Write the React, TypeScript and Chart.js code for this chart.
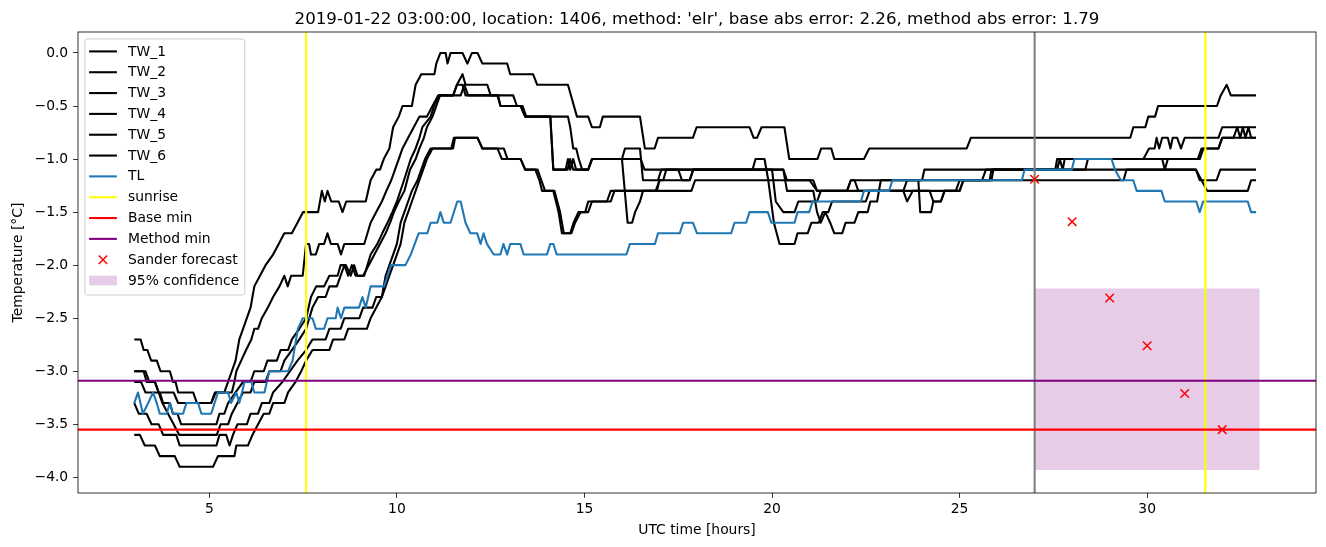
import React, { useEffect, useRef } from "react";
import { Chart, registerables } from "chart.js";

Chart.register(...registerables);

const TITLE =
  "2019-01-22 03:00:00, location: 1406, method: 'elr', base abs error: 2.26, method abs error: 1.79";
const X_LABEL = "UTC time [hours]";
const Y_LABEL = "Temperature [°C]";

const xTicks = [5, 10, 15, 20, 25, 30];
const yTicks = [-4.0, -3.5, -3.0, -2.5, -2.0, -1.5, -1.0, -0.5, 0.0];
const xRange = [1.5, 34.5];
const yRange = [-4.1475, 0.1975];

type P = [number, number];

const tw1: P[] = [
  [3.0, -2.7], [3.17, -2.7], [3.25, -2.8], [3.35, -2.8], [3.45, -2.9], [3.6, -2.9], [3.7, -3.0], [3.95, -3.0],
  [4.03, -3.1], [4.1, -3.1], [4.17, -3.2], [4.57, -3.2], [4.67, -3.3], [5.05, -3.3], [5.17, -3.2], [5.4, -3.2],
  [5.5, -3.1], [5.6, -3.0], [5.7, -2.9], [5.8, -2.7], [5.9, -2.6], [6.0, -2.5], [6.1, -2.4], [6.2, -2.2],
  [6.35, -2.1], [6.5, -2.0], [6.7, -1.9], [6.85, -1.8], [7.0, -1.7], [7.2, -1.7], [7.35, -1.6], [7.5, -1.5],
  [7.9, -1.5], [8.0, -1.3], [8.08, -1.4], [8.15, -1.3], [8.25, -1.4], [8.45, -1.4], [8.55, -1.5], [8.65, -1.4],
  [9.17, -1.4], [9.3, -1.2], [9.45, -1.1], [9.55, -1.1], [9.65, -1.0], [9.8, -0.9], [9.9, -0.7], [10.05, -0.6],
  [10.15, -0.5], [10.4, -0.5], [10.5, -0.3], [10.65, -0.2], [11.0, -0.2], [11.05, -0.1], [11.16, 0.0], [11.3, 0.0],
  [11.35, -0.1], [11.43, 0.0], [11.75, 0.0], [11.88, -0.1], [12.0, 0.0], [12.15, 0.0], [12.28, -0.1], [12.94, -0.1],
  [13.02, -0.2], [13.63, -0.2], [13.74, -0.3], [14.56, -0.3], [14.8, -0.6], [15.1, -0.6], [15.2, -0.7], [15.41, -0.7],
  [15.49, -0.6], [16.48, -0.6], [16.61, -0.9], [16.87, -0.9], [16.96, -0.8], [17.89, -0.8], [17.99, -0.7], [19.4, -0.7],
  [19.51, -0.8], [19.6, -0.8], [19.72, -0.7], [20.33, -0.7], [20.46, -1.0], [21.21, -1.0], [21.31, -0.9], [21.58, -0.9],
  [21.66, -1.0], [22.45, -1.0], [22.59, -0.9], [25.19, -0.9], [25.3, -0.8], [29.55, -0.8], [29.63, -0.7], [29.95, -0.7],
  [30.03, -0.6], [30.21, -0.6], [30.29, -0.5], [31.86, -0.5], [31.96, -0.4], [32.12, -0.3], [32.23, -0.4], [32.9, -0.4],
];

const tw2: P[] = [
  [3.0, -3.0], [3.25, -3.0], [3.33, -3.1], [3.55, -3.1], [3.65, -3.2], [4.05, -3.2], [4.17, -3.3], [5.05, -3.3],
  [5.15, -3.2], [5.6, -3.2], [5.67, -3.1], [5.72, -3.0], [5.85, -2.9], [5.98, -2.8], [6.12, -2.7], [6.2, -2.6],
  [6.3, -2.6], [6.4, -2.5], [6.56, -2.4], [6.7, -2.3], [6.87, -2.2], [7.0, -2.1], [7.09, -2.2], [7.18, -2.1],
  [7.49, -2.1], [7.58, -1.8], [7.66, -1.8], [7.71, -1.9], [7.84, -1.9], [7.93, -1.8], [8.06, -1.8], [8.15, -1.7],
  [8.24, -1.8], [8.42, -1.8], [8.51, -1.9], [8.6, -1.8], [9.13, -1.8], [9.3, -1.6], [9.45, -1.5], [9.6, -1.4],
  [9.72, -1.3], [9.85, -1.2], [9.95, -1.1], [10.05, -1.0], [10.15, -0.9], [10.3, -0.8], [10.45, -0.7], [10.6, -0.6],
  [10.8, -0.6], [10.95, -0.5], [11.1, -0.4], [11.5, -0.4], [11.6, -0.3], [11.75, -0.2], [11.83, -0.3], [12.41, -0.3],
  [12.5, -0.4], [12.7, -0.4], [12.76, -0.5], [13.3, -0.5], [13.42, -0.6], [14.09, -0.6], [14.17, -1.1], [14.5, -1.1],
  [14.56, -1.0], [14.62, -1.1], [14.7, -1.0], [14.78, -1.1], [15.1, -1.1], [15.2, -1.0], [16.0, -1.0], [16.08, -0.9],
  [16.48, -0.9], [16.56, -1.2], [16.96, -1.2], [17.05, -1.1], [19.48, -1.1], [19.56, -1.0], [19.8, -1.0], [19.9, -1.2],
  [20.05, -1.6], [20.2, -1.8], [20.6, -1.8], [20.68, -1.7], [20.95, -1.7], [21.05, -1.6], [21.25, -1.6], [21.35, -1.5],
  [21.5, -1.5], [21.6, -1.4], [22.5, -1.4], [22.6, -1.3], [23.5, -1.3], [23.6, -1.2], [24.0, -1.2], [24.06, -1.1],
  [31.3, -1.1], [31.4, -1.2], [31.85, -1.2], [31.95, -1.1], [32.9, -1.1],
];

const tw3: P[] = [
  [3.0, -3.1], [3.18, -3.1], [3.3, -3.2], [3.68, -3.2], [3.77, -3.3], [3.95, -3.3], [4.03, -3.4], [4.15, -3.4],
  [4.25, -3.5], [5.19, -3.5], [5.27, -3.4], [5.4, -3.4], [5.5, -3.3], [5.7, -3.2], [5.9, -3.1], [6.1, -3.1],
  [6.2, -3.0], [6.45, -3.0], [6.55, -2.9], [6.8, -2.9], [6.9, -2.8], [7.1, -2.8], [7.2, -2.7], [7.4, -2.6],
  [7.58, -2.5], [7.71, -2.3], [7.85, -2.2], [8.06, -2.2], [8.2, -2.1], [8.42, -2.1], [8.5, -2.0], [8.64, -2.0],
  [8.77, -2.1], [8.86, -2.0], [8.95, -2.1], [9.13, -2.1], [9.3, -1.9], [9.48, -1.8], [9.61, -1.7], [9.75, -1.6],
  [9.88, -1.5], [10.0, -1.4], [10.19, -1.2], [10.37, -1.0], [10.5, -0.9], [10.6, -0.8], [10.68, -0.7], [10.9, -0.6],
  [10.99, -0.5], [11.12, -0.4], [11.7, -0.4], [11.8, -0.3], [11.9, -0.4], [12.68, -0.4], [12.76, -0.5], [13.3, -0.5],
  [13.42, -0.6], [14.09, -0.6], [14.17, -1.1], [14.55, -1.1], [14.62, -1.0], [14.7, -1.1], [15.1, -1.1], [15.2, -1.0],
  [16.0, -1.0], [16.1, -1.4], [16.15, -1.6], [16.27, -1.6], [16.35, -1.5], [16.48, -1.4], [16.56, -1.3], [16.93, -1.3],
  [17.0, -1.2], [17.1, -1.2], [17.18, -1.1], [20.3, -1.1], [20.4, -1.3], [21.1, -1.3], [21.2, -1.5], [21.3, -1.6],
  [21.42, -1.5], [21.55, -1.6], [21.66, -1.7], [21.87, -1.7], [21.96, -1.6], [22.2, -1.6], [22.3, -1.5], [22.55, -1.5],
  [22.62, -1.4], [22.8, -1.4], [22.9, -1.2], [23.9, -1.2], [23.95, -1.5], [24.24, -1.5], [24.3, -1.4], [24.5, -1.4],
  [24.6, -1.3], [25.0, -1.3], [25.1, -1.2], [25.6, -1.2], [25.7, -1.1], [27.6, -1.1], [27.67, -1.0], [27.75, -1.1],
  [27.8, -1.0], [29.9, -1.0], [30.05, -0.9], [30.2, -0.9], [30.25, -0.8], [30.32, -0.9], [30.4, -0.8], [30.55, -0.8],
  [30.62, -0.9], [30.68, -0.8], [30.8, -0.8], [30.9, -0.9], [31.0, -0.8], [31.9, -0.8], [32.0, -0.7], [32.4, -0.7],
  [32.48, -0.8], [32.55, -0.7], [32.62, -0.8], [32.7, -0.7], [32.77, -0.8], [32.9, -0.8],
];

const tw4: P[] = [
  [3.0, -3.0], [3.3, -3.0], [3.4, -3.1], [3.55, -3.1], [3.65, -3.2], [3.75, -3.3], [3.9, -3.4], [4.05, -3.5],
  [4.2, -3.6], [5.2, -3.6], [5.3, -3.5], [5.5, -3.5], [5.6, -3.4], [5.75, -3.3], [5.9, -3.2], [6.1, -3.2],
  [6.2, -3.1], [6.5, -3.1], [6.6, -3.0], [6.9, -3.0], [7.0, -2.9], [7.2, -2.8], [7.4, -2.7], [7.58, -2.6],
  [7.75, -2.4], [7.9, -2.3], [8.1, -2.3], [8.2, -2.2], [8.4, -2.2], [8.5, -2.1], [8.6, -2.0], [8.7, -2.1],
  [8.8, -2.0], [8.9, -2.1], [9.1, -2.1], [9.25, -2.0], [9.4, -1.9], [9.55, -1.8], [9.7, -1.7], [9.82, -1.6],
  [9.92, -1.5], [10.05, -1.4], [10.2, -1.3], [10.35, -1.1], [10.5, -1.0], [10.6, -0.9], [10.72, -0.8], [10.8, -0.7],
  [10.95, -0.6], [11.05, -0.5], [11.15, -0.4], [11.5, -0.4], [11.6, -0.3], [11.75, -0.3], [11.83, -0.4], [13.1, -0.4],
  [13.2, -0.5], [13.35, -0.5], [13.45, -0.6], [14.56, -0.6], [14.62, -0.7], [14.7, -0.9], [14.78, -0.9], [14.85, -1.0],
  [14.94, -1.1], [15.1, -1.1], [15.2, -1.0], [16.5, -1.0], [16.6, -1.1], [17.5, -1.1], [17.6, -1.2], [17.81, -1.2],
  [17.9, -1.1], [20.0, -1.1], [20.1, -1.4], [20.3, -1.5], [20.6, -1.5], [20.7, -1.4], [21.2, -1.4], [21.3, -1.3],
  [23.5, -1.3], [23.6, -1.4], [23.75, -1.3], [24.9, -1.3], [25.0, -1.2], [25.8, -1.2], [25.85, -1.1], [27.55, -1.1],
  [27.6, -1.0], [31.4, -1.0], [31.5, -0.9], [31.9, -0.9], [32.0, -0.8], [32.3, -0.8], [32.4, -0.7], [32.9, -0.7],
];

const tw5: P[] = [
  [3.0, -3.3], [3.12, -3.4], [3.33, -3.4], [3.46, -3.5], [3.65, -3.5], [3.77, -3.6], [4.12, -3.6], [4.21, -3.7],
  [5.19, -3.7], [5.27, -3.6], [5.45, -3.6], [5.54, -3.7], [5.63, -3.6], [5.75, -3.5], [6.0, -3.5], [6.1, -3.4],
  [6.3, -3.4], [6.4, -3.3], [6.6, -3.3], [6.7, -3.2], [6.95, -3.1], [7.15, -3.0], [7.35, -2.9], [7.58, -2.8],
  [7.75, -2.7], [8.1, -2.7], [8.2, -2.6], [8.5, -2.6], [8.6, -2.5], [9.0, -2.5], [9.1, -2.4], [9.35, -2.4],
  [9.45, -2.3], [9.6, -2.3], [9.7, -2.1], [9.8, -2.0], [9.9, -1.9], [10.0, -1.8], [10.1, -1.6], [10.2, -1.5],
  [10.3, -1.4], [10.4, -1.3], [10.55, -1.2], [10.65, -1.1], [10.75, -1.0], [10.9, -0.9], [11.45, -0.9], [11.52, -0.8],
  [12.15, -0.8], [12.28, -0.9], [12.85, -0.9], [12.95, -1.0], [13.3, -1.0], [13.42, -1.1], [13.69, -1.1], [13.8, -1.2],
  [13.87, -1.3], [14.17, -1.3], [14.31, -1.5], [14.4, -1.7], [14.62, -1.7], [14.71, -1.6], [14.84, -1.5], [15.02, -1.5],
  [15.1, -1.4], [15.6, -1.4], [15.7, -1.3], [16.9, -1.3], [17.0, -1.2], [17.8, -1.2], [17.9, -1.1], [20.3, -1.1],
  [20.4, -1.2], [21.1, -1.2], [21.2, -1.3], [22.0, -1.3], [22.1, -1.2], [22.2, -1.2], [22.3, -1.3], [24.2, -1.3],
  [24.3, -1.4], [24.5, -1.4], [24.6, -1.3], [25.0, -1.3], [25.1, -1.2], [25.85, -1.2], [25.9, -1.1], [28.35, -1.1],
  [28.42, -1.0], [30.4, -1.0], [30.47, -1.1], [30.55, -1.0], [31.35, -1.0], [31.45, -0.9], [31.9, -0.9], [32.0, -0.8],
  [32.9, -0.8],
];

const tw6: P[] = [
  [3.0, -3.6], [3.15, -3.6], [3.28, -3.7], [3.55, -3.7], [3.68, -3.8], [4.08, -3.8], [4.21, -3.9], [5.1, -3.9],
  [5.23, -3.8], [5.67, -3.8], [5.72, -3.7], [6.03, -3.7], [6.15, -3.6], [6.3, -3.5], [6.45, -3.4], [6.6, -3.4],
  [6.7, -3.3], [7.0, -3.3], [7.1, -3.2], [7.3, -3.1], [7.45, -3.0], [7.58, -2.9], [7.75, -2.8], [8.2, -2.8],
  [8.3, -2.7], [8.6, -2.7], [8.7, -2.6], [9.2, -2.6], [9.3, -2.5], [9.45, -2.4], [9.6, -2.3], [9.7, -2.2],
  [9.8, -2.1], [9.9, -2.0], [10.0, -1.9], [10.1, -1.8], [10.2, -1.6], [10.3, -1.5], [10.4, -1.4], [10.5, -1.3],
  [10.6, -1.2], [10.7, -1.1], [10.8, -1.0], [10.95, -0.9], [11.5, -0.9], [11.55, -0.8], [12.15, -0.8], [12.28, -0.9],
  [12.68, -0.9], [12.8, -1.0], [13.3, -1.0], [13.42, -1.1], [13.75, -1.1], [13.85, -1.2], [13.95, -1.3], [14.2, -1.3],
  [14.35, -1.5], [14.45, -1.7], [14.65, -1.7], [14.75, -1.6], [14.9, -1.5], [15.1, -1.5], [15.2, -1.4], [15.7, -1.4],
  [15.8, -1.3], [17.85, -1.3], [17.95, -1.2], [21.0, -1.2], [21.2, -1.3], [22.0, -1.3], [22.1, -1.2], [29.37, -1.2],
  [29.45, -1.1], [31.3, -1.1], [31.6, -1.3], [32.68, -1.3], [32.77, -1.2], [32.9, -1.2],
];

const tl: P[] = [
  [3.0, -3.3], [3.1, -3.2], [3.23, -3.4], [3.37, -3.3], [3.5, -3.2], [3.6, -3.3], [3.68, -3.4], [3.86, -3.4],
  [3.95, -3.3], [4.03, -3.4], [4.3, -3.4], [4.39, -3.3], [4.7, -3.3], [4.79, -3.4], [5.05, -3.4], [5.14, -3.3],
  [5.23, -3.2], [5.5, -3.2], [5.58, -3.3], [5.72, -3.2], [5.8, -3.3], [5.94, -3.1], [6.12, -3.1], [6.2, -3.2],
  [6.47, -3.2], [6.6, -3.0], [7.1, -3.0], [7.22, -2.9], [7.36, -2.6], [7.49, -2.5], [7.75, -2.5], [7.84, -2.6],
  [8.06, -2.6], [8.15, -2.5], [8.37, -2.5], [8.42, -2.4], [8.51, -2.5], [8.6, -2.4], [8.99, -2.4], [9.08, -2.3],
  [9.17, -2.4], [9.3, -2.2], [9.66, -2.2], [9.84, -2.0], [10.23, -2.0], [10.37, -1.9], [10.58, -1.7], [10.81, -1.7],
  [10.9, -1.6], [11.08, -1.6], [11.16, -1.5], [11.25, -1.6], [11.43, -1.6], [11.61, -1.4], [11.7, -1.4], [11.83, -1.6],
  [11.96, -1.7], [12.14, -1.7], [12.23, -1.8], [12.31, -1.7], [12.4, -1.8], [12.58, -1.9], [12.76, -1.9], [12.84, -1.8],
  [12.94, -1.9], [13.02, -1.8], [13.29, -1.8], [13.38, -1.9], [14.0, -1.9], [14.09, -1.8], [14.17, -1.8], [14.26, -1.9],
  [16.12, -1.9], [16.21, -1.8], [16.88, -1.8], [16.96, -1.7], [17.54, -1.7], [17.63, -1.6], [17.89, -1.6], [18.0, -1.7],
  [18.91, -1.7], [19.0, -1.6], [19.31, -1.6], [19.4, -1.5], [19.89, -1.5], [19.98, -1.6], [20.6, -1.6], [20.68, -1.5],
  [20.99, -1.5], [21.08, -1.4], [22.37, -1.4], [22.45, -1.3], [23.12, -1.3], [23.21, -1.2], [26.66, -1.2], [26.73, -1.1],
  [27.99, -1.1], [28.06, -1.0], [29.05, -1.0], [29.14, -1.1], [29.3, -1.2], [29.63, -1.2], [29.72, -1.3], [30.38, -1.3],
  [30.47, -1.4], [31.31, -1.4], [31.4, -1.5], [31.49, -1.4], [32.68, -1.4], [32.77, -1.5], [32.9, -1.5],
];

const sunrise = [7.58, 31.55];
const forecastStart = 27.0;
const baseMin = -3.55;
const methodMin = -3.09;
const sanderX = [27, 28, 29, 30, 31, 32];
const sanderY = [-1.19, -1.59, -2.31, -2.76, -3.21, -3.55];
const confX = [27, 33];
const confLow = -3.93;
const confHigh = -2.22;

const FONT = '"DejaVu Sans", "Liberation Sans", sans-serif';
const BLUE = "#1f77b4";
const CONF_FILL = "rgba(128,0,128,0.2)";

const legendItems = [
  { label: "TW_1", kind: "line", color: "#000000" },
  { label: "TW_2", kind: "line", color: "#000000" },
  { label: "TW_3", kind: "line", color: "#000000" },
  { label: "TW_4", kind: "line", color: "#000000" },
  { label: "TW_5", kind: "line", color: "#000000" },
  { label: "TW_6", kind: "line", color: "#000000" },
  { label: "TL", kind: "line", color: BLUE },
  { label: "sunrise", kind: "line", color: "#ffff00" },
  { label: "Base min", kind: "line", color: "#ff0000" },
  { label: "Method min", kind: "line", color: "#800080" },
  { label: "Sander forecast", kind: "marker", color: "#ff0000" },
  { label: "95% confidence", kind: "patch", color: CONF_FILL },
];

const toXY = (arr: P[]) => arr.map(([x, y]) => ({ x, y }));

function drawX(ctx: CanvasRenderingContext2D, cx: number, cy: number, r: number, color: string) {
  ctx.save();
  ctx.strokeStyle = color;
  ctx.lineWidth = 1.5;
  ctx.beginPath();
  ctx.moveTo(cx - r, cy - r);
  ctx.lineTo(cx + r, cy + r);
  ctx.moveTo(cx - r, cy + r);
  ctx.lineTo(cx + r, cy - r);
  ctx.stroke();
  ctx.restore();
}

const overlayPlugin = {
  id: "overlay",
  afterDraw(chart: any) {
    const ctx: CanvasRenderingContext2D = chart.ctx;
    const a = chart.chartArea;
    ctx.save();
    // frame (spines)
    ctx.strokeStyle = "#000";
    ctx.lineWidth = 0.8;
    ctx.strokeRect(a.left, a.top, a.right - a.left, a.bottom - a.top);

    // title
    ctx.fillStyle = "#000";
    ctx.font = `16.67px ${FONT}`;
    ctx.textAlign = "center";
    ctx.textBaseline = "alphabetic";
    ctx.fillText(TITLE, (a.left + a.right) / 2, a.top - 8.3);

    // axis labels
    ctx.font = `13.89px ${FONT}`;
    ctx.textBaseline = "middle";
    ctx.fillText(X_LABEL, (a.left + a.right) / 2, a.bottom + 37);
    ctx.save();
    ctx.translate(18, (a.top + a.bottom) / 2);
    ctx.rotate(-Math.PI / 2);
    ctx.fillText(Y_LABEL, 0, 0);
    ctx.restore();

    // legend
    const bx = a.left + 6.9;
    const by = a.top + 6.9;
    const rowH = 20.83;
    const pad = 5.56;
    ctx.font = `13.89px ${FONT}`;
    let maxW = 0;
    legendItems.forEach((it) => {
      maxW = Math.max(maxW, ctx.measureText(it.label).width);
    });
    const hx0 = bx + 4.2;
    const hx1 = hx0 + 27.8;
    const tx = hx1 + 11.1;
    const bw = tx + maxW + pad - bx;
    const bh = pad * 2 + legendItems.length * rowH - 6.94 + 2;
    const r = 2.8;
    ctx.beginPath();
    ctx.moveTo(bx + r, by);
    ctx.lineTo(bx + bw - r, by);
    ctx.quadraticCurveTo(bx + bw, by, bx + bw, by + r);
    ctx.lineTo(bx + bw, by + bh - r);
    ctx.quadraticCurveTo(bx + bw, by + bh, bx + bw - r, by + bh);
    ctx.lineTo(bx + r, by + bh);
    ctx.quadraticCurveTo(bx, by + bh, bx, by + bh - r);
    ctx.lineTo(bx, by + r);
    ctx.quadraticCurveTo(bx, by, bx + r, by);
    ctx.closePath();
    ctx.fillStyle = "rgba(255,255,255,0.8)";
    ctx.fill();
    ctx.strokeStyle = "#cccccc";
    ctx.lineWidth = 1;
    ctx.stroke();

    legendItems.forEach((it, i) => {
      const cy = by + pad + 6.95 + i * rowH;
      if (it.kind === "line") {
        ctx.strokeStyle = it.color;
        ctx.lineWidth = 2.08;
        ctx.beginPath();
        ctx.moveTo(hx0, cy);
        ctx.lineTo(hx1, cy);
        ctx.stroke();
      } else if (it.kind === "marker") {
        drawX(ctx, (hx0 + hx1) / 2, cy, 4.2, it.color);
      } else {
        ctx.fillStyle = it.color;
        ctx.fillRect(hx0, cy - 4.9, hx1 - hx0, 9.7);
      }
      ctx.fillStyle = "#000";
      ctx.textAlign = "left";
      ctx.textBaseline = "middle";
      ctx.fillText(it.label, tx, cy + 0.5);
    });
    ctx.restore();
  },
};

export default function App() {
  const ref = useRef<HTMLCanvasElement | null>(null);

  useEffect(() => {
    if (!ref.current) return;
    const blackLine = (label: string, data: P[]) => ({
      label,
      data: toXY(data),
      borderColor: "#000000",
      borderWidth: 2.08,
      pointRadius: 0,
      fill: false,
      tension: 0,
      borderJoinStyle: "round",
      order: 6,
    });
    const datasets: any[] = [
      blackLine("TW_1", tw1),
      blackLine("TW_2", tw2),
      blackLine("TW_3", tw3),
      blackLine("TW_4", tw4),
      blackLine("TW_5", tw5),
      blackLine("TW_6", tw6),
      {
        label: "TL",
        data: toXY(tl),
        borderColor: BLUE,
        borderWidth: 2.08,
        pointRadius: 0,
        fill: false,
        borderJoinStyle: "round",
        order: 5,
      },
      ...sunrise.map((s) => ({
        label: "sunrise",
        data: [
          { x: s, y: yRange[0] },
          { x: s, y: yRange[1] },
        ],
        borderColor: "#ffff00",
        borderWidth: 2.08,
        pointRadius: 0,
        fill: false,
        order: 4,
      })),
      {
        label: "forecast start",
        data: [
          { x: forecastStart, y: yRange[0] },
          { x: forecastStart, y: yRange[1] },
        ],
        borderColor: "#808080",
        borderWidth: 2.08,
        pointRadius: 0,
        fill: false,
        order: 4,
      },
      {
        label: "Base min",
        data: [
          { x: xRange[0], y: baseMin },
          { x: xRange[1], y: baseMin },
        ],
        borderColor: "#ff0000",
        borderWidth: 2.08,
        pointRadius: 0,
        fill: false,
        order: 3,
      },
      {
        label: "Method min",
        data: [
          { x: xRange[0], y: methodMin },
          { x: xRange[1], y: methodMin },
        ],
        borderColor: "#800080",
        borderWidth: 2.08,
        pointRadius: 0,
        fill: false,
        order: 3,
      },
      {
        label: "Sander forecast",
        data: sanderX.map((x, i) => ({ x, y: sanderY[i] })),
        showLine: false,
        pointStyle: "crossRot",
        pointRadius: 6,
        pointBorderWidth: 1.5,
        pointBorderColor: "#ff0000",
        borderColor: "#ff0000",
        pointBackgroundColor: "#ff0000",
        order: 0,
      },
      {
        label: "95% confidence",
        data: confX.map((x) => ({ x, y: confHigh })),
        borderWidth: 0,
        borderColor: "rgba(0,0,0,0)",
        pointRadius: 0,
        backgroundColor: CONF_FILL,
        fill: { value: confLow },
        order: 10,
      },
    ];

    const chart = new Chart(ref.current, {
      type: "line",
      data: { datasets },
      options: {
        animation: false,
        responsive: false,
        devicePixelRatio: 1,
        layout: { padding: { left: 0, right: 10, top: 32, bottom: 0 } },
        plugins: {
          legend: { display: false },
          tooltip: { enabled: false },
          title: { display: false },
        },
        scales: {
          x: {
            type: "linear",
            min: xRange[0],
            max: xRange[1],
            afterBuildTicks: (s: any) => {
              s.ticks = xTicks.map((v) => ({ value: v }));
            },
            afterFit: (s: any) => {
              s.height = 54;
            },
            grid: {
              display: true,
              drawOnChartArea: false,
              drawTicks: true,
              tickLength: 4.9,
              tickWidth: 0.8,
              tickColor: "#000",
            },
            border: { display: false },
            ticks: {
              color: "#000",
              font: { family: FONT, size: 13.89 },
              padding: 3,
              maxRotation: 0,
              autoSkip: false,
              callback: (v: any) => String(v),
            },
          },
          y: {
            type: "linear",
            min: yRange[0],
            max: yRange[1],
            afterBuildTicks: (s: any) => {
              s.ticks = yTicks.map((v) => ({ value: v }));
            },
            afterFit: (s: any) => {
              s.width = 78;
            },
            grid: {
              display: true,
              drawOnChartArea: false,
              drawTicks: true,
              tickLength: 4.9,
              tickWidth: 0.8,
              tickColor: "#000",
            },
            border: { display: false },
            ticks: {
              color: "#000",
              font: { family: FONT, size: 13.89 },
              padding: 4.9,
              autoSkip: false,
              callback: (v: any) => {
                const n = Number(v);
                return (n < -1e-9 ? "\u2212" : "") + Math.abs(n).toFixed(1);
              },
            },
          },
        },
      },
      plugins: [overlayPlugin],
    } as any);

    return () => chart.destroy();
  }, []);

  return (
    <div style={{ position: "absolute", left: 0, top: 0, width: 1326, height: 547, background: "#fff" }}>
      <canvas ref={ref} width={1326} height={547} style={{ width: 1326, height: 547, display: "block" }} />
    </div>
  );
}
